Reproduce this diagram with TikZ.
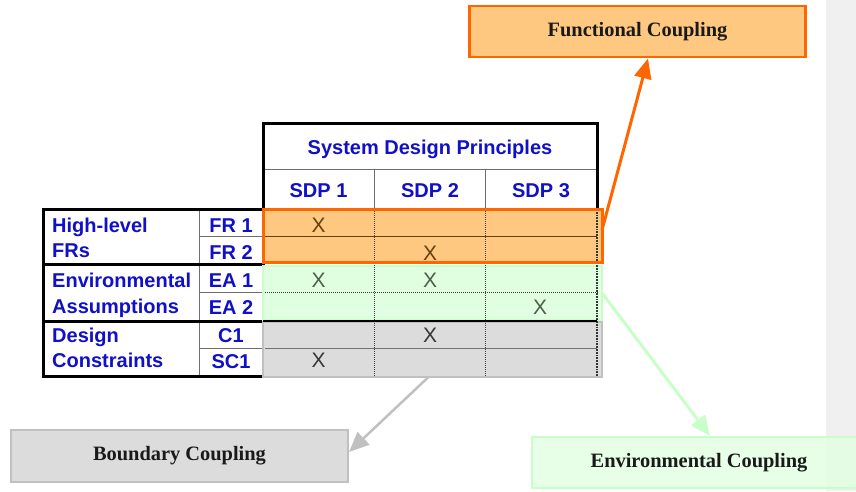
\documentclass[tikz,border=0pt]{standalone}
\usepackage{fontspec}
\setmainfont{Liberation Serif}
\newfontfamily\arialf{Liberation Sans}
\usetikzlibrary{arrows.meta,calc}
\definecolor{tblue}{RGB}{16,16,200}
\definecolor{orfill}{RGB}{255,200,128}
\definecolor{ordraw}{RGB}{255,102,0}
\definecolor{grfill}{RGB}{224,255,224}
\definecolor{grdraw}{RGB}{200,255,200}
\definecolor{gyfill}{RGB}{220,220,220}
\definecolor{gydraw}{RGB}{192,192,192}
\definecolor{stripgray}{RGB}{240,240,240}
\definecolor{thingray}{RGB}{110,110,110}
\definecolor{xbrown}{RGB}{100,65,15}
\definecolor{xgreen}{RGB}{75,95,75}
\definecolor{xgray}{RGB}{55,55,55}
\tikzset{
  lbl/.style={font=\arialf\bfseries\fontsize{20}{24}\selectfont, text=tblue, inner sep=0pt, anchor=base},
  lbll/.style={lbl, anchor=base west},
  xm/.style={font=\arialf\fontsize{21}{24}\selectfont, inner sep=0pt, anchor=base},
  band/.style={minimum width=339pt, minimum height=#1, inner sep=0pt, outer sep=0pt, anchor=north west},
  cbox/.style={inner sep=0pt, outer sep=0pt, font=\bfseries\fontsize{20.4}{24}\selectfont, text=black!90, line width=2.5pt},
  thickb/.style={line width=3pt, black},
  thinl/.style={line width=1pt, thingray},
  dotl/.style={line width=1pt, densely dotted, black!75},
  arr/.style={-{Triangle[length=20pt,width=17pt]}, line width=3pt},
}
\begin{document}
\begin{tikzpicture}[x=1pt,y=-1pt]
\useasboundingbox (0,0) rectangle (856,491);
\fill[white] (0,0) rectangle (856,491);
\fill[stripgray] (826,0) rectangle (856,491);

% header
\draw[thinl] (263,169.5) -- (597,169.5);
\draw[thinl] (374.5,169.5) -- (374.5,209);
\draw[thinl] (485.5,169.5) -- (485.5,209);
\draw[thickb] (263,123) rectangle (597,209);
\node[lbl] (sdp) at (430,154) {System Design Principles};
\node[lbl] (s1) at (318.5,197) {SDP 1};
\node[lbl] (s2) at (430,197) {SDP 2};
\node[lbl] (s3) at (541,197) {SDP 3};

% left block
\draw[thinl] (199,209) -- (199,376);
\draw[thinl] (199,236.5) -- (263,236.5);
\draw[thinl] (199,292.5) -- (263,292.5);
\draw[thinl] (199,348.5) -- (263,348.5);
\draw[thickb] (43,264) -- (263,264);
\draw[thickb] (43,321) -- (263,321);
\draw[thickb] (43,209) rectangle (263,376);

\node[lbll] (hl) at (52,232) {High-level};
\node[lbll] (frs) at (52,257) {FRs};
\node[lbll] (env) at (52,287) {Environmental};
\node[lbll] (ass) at (52,313) {Assumptions};
\node[lbll] (des) at (52,342) {Design};
\node[lbll] (con) at (52,367) {Constraints};
\node[lbl] (fr1) at (231,232) {FR 1};
\node[lbl] (fr2) at (231,259) {FR 2};
\node[lbl] (ea1) at (231,287) {EA 1};
\node[lbl] (ea2) at (231,314) {EA 2};
\node[lbl] (c1) at (231,342) {C1};
\node[lbl] (sc1) at (231,368) {SC1};

% bands
\node[band=53pt, fill=orfill, draw=ordraw, line width=3pt] (fr) at (263,209) {};
\node[band=54pt, fill=grfill, draw=grdraw, line width=2.5pt] (en) at (263,266) {};
\node[band=55pt, fill=gyfill, draw=gydraw, line width=2.5pt] (bd) at (263,322) {};

% grid inside data area
\draw[line width=1pt, xbrown] (264.5,236) -- (597,236);
\draw[dotl] (264.5,292.5) -- (597,292.5);
\draw[line width=1pt, black!55] (264.5,348.5) -- (597,348.5);
\draw[dotl] (374.5,209) -- (374.5,376);
\draw[dotl] (485.5,209) -- (485.5,376);
\draw[line width=1.8pt, densely dotted, black!80] (597,209) -- (597,376);
\draw[line width=2pt, black] (263,321) -- (597,321);
\draw[line width=3pt, ordraw] (fr.north west) rectangle (fr.south east);

% X marks
\node[xm, text=xbrown] (x11) at (318.5,232) {X};
\node[xm, text=xbrown] (x22) at (430,260) {X};
\node[xm, text=xgreen] (x31) at (318.5,287) {X};
\node[xm, text=xgreen] (x32) at (430,287) {X};
\node[xm, text=xgreen] (x43) at (540,314) {X};
\node[xm, text=xgray] (x52) at (430,342) {X};
\node[xm, text=xgray] (x61) at (318.5,367) {X};

% coupling boxes
\node[cbox, fill=orfill, draw=ordraw, minimum width=336pt, minimum height=51pt] (fc) at (637.5,31.5) {Functional Coupling};
\node[cbox, fill=gyfill, draw=gydraw, minimum width=337pt, minimum height=52pt] (bc) at (179.5,456) {Boundary Coupling};
\node[cbox, fill=grfill, fill opacity=0.8, text opacity=1, draw=grdraw, minimum width=334pt, minimum height=51pt] (ec) at (699,462.5) {Environmental Coupling};

% arrows
\draw[arr, ordraw] ($(fr.east)+(0,-5.5)$) -- ($(fc.south)+(10.5,1.5)$);
\draw[arr, grdraw] (en.east) -- ($(ec.north)+(11,-1)$);
\draw[arr, gydraw, line width=2.5pt] ($(bd.south)+(-4,0)$) -- ($(bc.east)+(1,-4)$);
\end{tikzpicture}
\end{document}
